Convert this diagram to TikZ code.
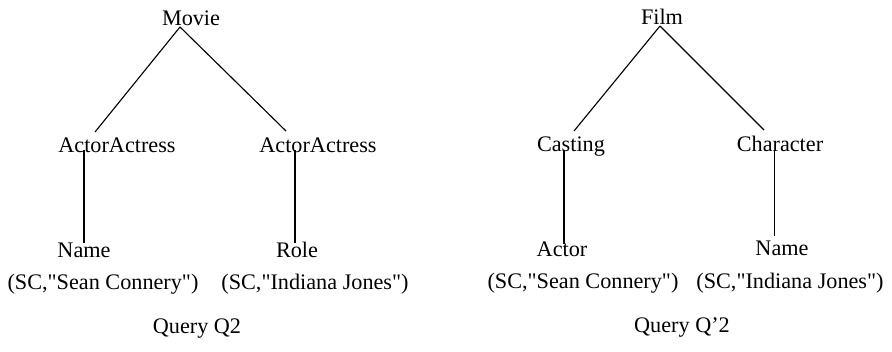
\documentclass[tikz,border=0pt]{standalone}
\usepackage{fontspec}
\setmainfont{Liberation Serif}
\usepackage{tikz}
\usetikzlibrary{positioning}

\begin{document}
\begin{tikzpicture}[lbl/.style={anchor=base, inner sep=0pt, font=\fontsize{15.8}{18}\selectfont},
    edge/.style={line width=0.8pt}, stem/.style={line width=1.2pt}]
        \useasboundingbox (0, 0) rectangle (22.3, 8.8);

        % query Q2
        \node[lbl] (movie) at (4.775, 8.15) {Movie};
        \node[lbl] (aa1) at (2.925, 4.975) {ActorActress};
        \node[lbl] (aa2) at (7.95, 4.975) {ActorActress};
        \node[lbl] (name1) at (2.1, 2.35) {Name};
        \node[lbl] (role) at (7.425, 2.35) {Role};
        \node[lbl] (sc1) at (2.575, 1.55) {(SC,\textquotedbl Sean Connery\textquotedbl)};
        \node[lbl] (sc2) at (7.875, 1.55) {(SC,\textquotedbl Indiana Jones\textquotedbl)};
        \node[lbl] (q1) at (4.925, 0.45) {Query Q2};

        \draw[edge] ([shift={(-0.275, -0.025)}]movie.base) to ([shift={(-0.55, 0.525)}]aa1.base);
        \draw[edge] ([shift={(-0.275, -0.025)}]movie.base) to ([shift={(-0.8, 0.55)}]aa2.base);
        \draw[stem] ([shift={(-0.825, 0.075)}]aa1.base) to ([shift={(0, 0.375)}]name1.base);
        \draw[stem] ([shift={(-0.575, 0.075)}]aa2.base) to ([shift={(-0.05, 0.375)}]role.base);

        % query Q'2
        \node[lbl] (film) at (16.55, 8.175) {Film};
        \node[lbl] (cast) at (14.275, 5.0) {Casting};
        \node[lbl] (char) at (19.5, 5.0) {Character};
        \node[lbl] (actor) at (14.05, 2.375) {Actor};
        \node[lbl] (name2) at (19.55, 2.4) {Name};
        \node[lbl] (sc3) at (14.575, 1.575) {(SC,\textquotedbl Sean Connery\textquotedbl)};
        \node[lbl] (sc4) at (19.75, 1.575) {(SC,\textquotedbl Indiana Jones\textquotedbl)};
        \node[lbl] (q2) at (17.05, 0.475) {Query Q'2};

        \draw[edge] ([shift={(-0.05, -0.025)}]film.base) to ([shift={(0.075, 0.525)}]cast.base);
        \draw[edge] ([shift={(-0.05, -0.025)}]film.base) to ([shift={(-0.4, 0.55)}]char.base);
        \draw[stem] ([shift={(-0.175, 0.05)}]cast.base) to ([shift={(0.05, 0.325)}]actor.base);
        \draw[line width=0.6pt] ([shift={(-0.15, 0.05)}]char.base) to ([shift={(-0.2, 0.5)}]name2.base);
    \end{tikzpicture}
\end{document}
